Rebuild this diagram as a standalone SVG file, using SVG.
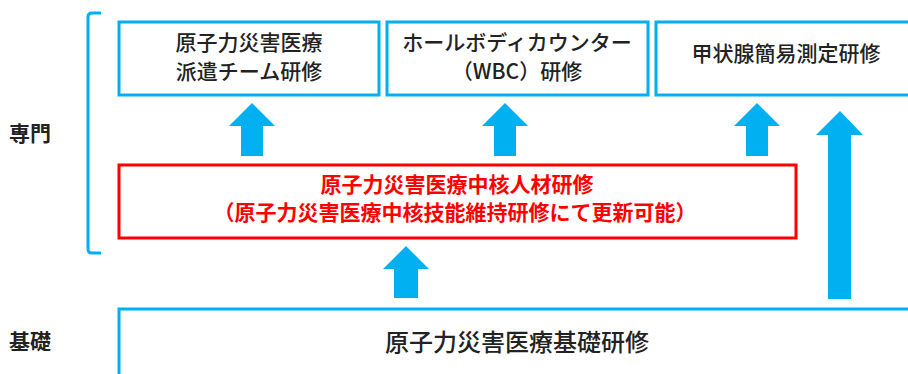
<svg xmlns="http://www.w3.org/2000/svg" width="908" height="374" viewBox="0 0 908 374">
<style>
.box{fill:#fff;stroke:#00B0F0;stroke-width:3}
.red{fill:#fff;stroke:#FF0000;stroke-width:3}
.arr{fill:#00B0F0}
.t{font-family:"Noto Sans CJK JP","Noto Sans",sans-serif;font-size:21px;fill:#222;text-anchor:middle;font-weight:500}
.rt{font-family:"Noto Sans CJK JP","Noto Sans",sans-serif;font-size:21px;fill:#FF0000;text-anchor:middle;font-weight:700}
.lab{font-family:"Noto Sans CJK JP","Noto Sans",sans-serif;font-size:21px;fill:#222;font-weight:700}
</style>
<rect width="908" height="374" fill="#fff"/>
<g id="labels">
<text class="lab" x="9" y="141">専門</text>
<text class="lab" x="9" y="349">基礎</text>
</g>
<path id="bracket" d="M101,13 H92 Q88,13 88,17 V249 Q88,253 92,253 H101" fill="none" stroke="#00B0F0" stroke-width="3"/>
<g id="node-haken">
<rect class="box" x="119" y="22" width="260" height="73"/>
<text class="t" x="249" y="50">原子力災害医療</text>
<text class="t" x="249" y="79">派遣チーム研修</text>
</g>
<g id="node-wbc">
<rect class="box" x="387" y="22" width="261" height="73"/>
<text class="t" x="517" y="50">ホールボディカウンター</text>
<text class="t" x="517" y="79">（WBC）研修</text>
</g>
<g id="node-thyroid">
<rect class="box" x="656" y="22" width="260" height="73"/>
<text class="t" x="786" y="61">甲状腺簡易測定研修</text>
</g>
<g id="node-core">
<rect class="red" x="119" y="165" width="677" height="73"/>
<text class="rt" x="457" y="192">原子力災害医療中核人材研修</text>
<text class="rt" x="455" y="220">（原子力災害医療中核技能維持研修にて更新可能）</text>
</g>
<g id="node-basic">
<rect class="box" x="119" y="309" width="800" height="80"/>
<text class="t" x="517" y="351" style="font-size:24px">原子力災害医療基礎研修</text>
</g>
<g id="connectors">
<polygon class="arr" points="252,103 275,126 263,126 263,156 241,156 241,126 229,126"/>
<polygon class="arr" points="505,103 528,126 516,126 516,156 494,156 494,126 482,126"/>
<polygon class="arr" points="757,103 780,126 768,126 768,156 746,156 746,126 734,126"/>
<polygon class="arr" points="406,246 429,269 418,269 418,298 394,298 394,269 383,269"/>
<polygon class="arr" points="840,111 863,135 851,135 851,299 828,299 828,135 816,135"/>
</g>
</svg>
